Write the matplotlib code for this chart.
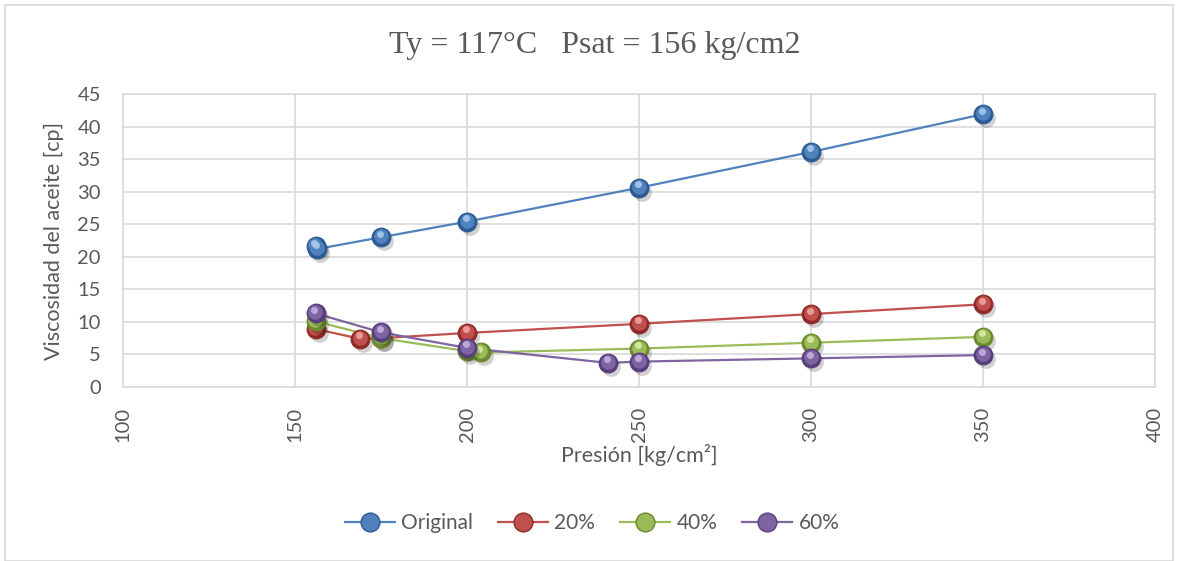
import matplotlib
matplotlib.use("Agg")
import matplotlib.pyplot as plt
from matplotlib.lines import Line2D
import matplotlib.patches as mpatches
import matplotlib.transforms as mtransforms

# Presión [kg/cm2] and viscosity [cp] per series
p_original = [156, 156.5, 175, 200, 250, 300, 350]
mu_original = [21.6, 21.2, 23.0, 25.4, 30.6, 36.1, 41.9]

p_20 = [156, 169, 175, 200, 250, 300, 350]
mu_20 = [8.9, 7.4, 7.5, 8.3, 9.7, 11.2, 12.7]

p_40 = [156, 175, 200, 204, 250, 300, 350]
mu_40 = [10.1, 7.5, 5.5, 5.3, 5.9, 6.8, 7.7]

p_60 = [156, 175, 200, 241, 250, 300, 350]
mu_60 = [11.3, 8.4, 6.0, 3.7, 3.9, 4.4, 4.9]

series_names = ["Original", "20%", "40%", "60%"]
colors = ["#4F81BD", "#C0504D", "#9BBB59", "#8064A2"]
dark = ["#2C5A93", "#8E2A27", "#6A8A2C", "#573F7C"]
light = ["#A9C8EE", "#F0A3A1", "#D6EDA4", "#C4B1E0"]

x_ticks = [100, 150, 200, 250, 300, 350, 400]
y_ticks = list(range(0, 50, 5))

plt.rcParams["font.family"] = ["Lato", "DejaVu Sans"]

W, H = 1179, 561
fig = plt.figure(figsize=(W / 100, H / 100), dpi=100)
ax = fig.add_axes([123 / W, 1 - 387 / H, (1155 - 123) / W, (387 - 94) / H])

# chart frame
fig.patches.append(mpatches.Rectangle((5 / W, 0.0), 1168 / W, 1 - 5 / H,
                                      transform=fig.transFigure, fill=False,
                                      edgecolor="#d9d9d9", linewidth=1.2))

data = [(p_original, mu_original), (p_20, mu_20), (p_40, mu_40), (p_60, mu_60)]

shadow_tr = mtransforms.offset_copy(ax.transData, fig=fig, x=3, y=-4, units="dots")
body_tr = mtransforms.offset_copy(ax.transData, fig=fig, x=-0.5, y=1, units="dots")
hl_tr = mtransforms.offset_copy(ax.transData, fig=fig, x=-1.5, y=3.5, units="dots")

for i, (xs, ys) in enumerate(data):
    ax.plot(xs, ys, color=colors[i], linewidth=1.6, zorder=3 + i * 0.1)
for i, (xs, ys) in enumerate(data):
    z = 4 + i * 0.1
    # soft shadow
    ax.plot(xs, ys, linestyle="none", marker="o", markersize=13.5,
            markerfacecolor="#000000", markeredgecolor="none", alpha=0.18,
            transform=shadow_tr, zorder=z)
    ax.plot(xs, ys, linestyle="none", marker="o", markersize=13.5,
            markerfacecolor=dark[i], markeredgecolor=dark[i], markeredgewidth=0.8,
            zorder=z + 0.01)
    ax.plot(xs, ys, linestyle="none", marker="o", markersize=10.5,
            markerfacecolor=colors[i], markeredgecolor="none", zorder=z + 0.02,
            transform=body_tr)
    ax.plot(xs, ys, linestyle="none", marker="o", markersize=5,
            markerfacecolor=light[i], markeredgecolor="none", alpha=0.9,
            transform=hl_tr, zorder=z + 0.03)

ax.set_xlim(100, 400)
ax.set_ylim(0, 45)
ax.set_xticks(x_ticks)
ax.set_yticks(y_ticks)
ax.set_xticklabels([str(v) for v in x_ticks], rotation=90)
ax.tick_params(axis="y", length=0, labelsize=14.5, labelcolor="#595959", pad=16)
ax.tick_params(axis="x", length=0, labelsize=14.5, labelcolor="#595959", pad=14)
ax.grid(True, color="#d9d9d9", linewidth=1.2)
ax.set_axisbelow(True)
for s in ax.spines.values():
    s.set_color("#d9d9d9")
    s.set_linewidth(1.2)

ax.set_xlabel("Presión [kg/cm²]", fontsize=15.5, color="#595959")
ax.set_ylabel("Viscosidad del aceite [cp]", fontsize=15.5, color="#595959")
ax.xaxis.set_label_coords((639 - 123) / 1032, (387 - 455) / 293)
ax.yaxis.set_label_coords((54 - 123) / 1032, 0.5)
ax.xaxis.label.set_va("center")
ax.yaxis.label.set_va("center")

fig.text(595 / W, 1 - 45 / H, "Ty = 117°C   Psat = 156 kg/cm2",
         ha="center", va="center", fontsize=23, color="#595959",
         family=["Liberation Serif", "DejaVu Serif"])

handles = [Line2D([0], [0], color=colors[i], linewidth=1.6, marker="o", markersize=13.5,
                  markerfacecolor=colors[i], markeredgecolor=dark[i])
           for i in range(4)]
fig.legend(handles, series_names, loc="center", bbox_to_anchor=(592 / W, 1 - 523 / H),
           ncol=4, frameon=False, fontsize=15, labelcolor="#595959",
           handlelength=2.4, columnspacing=1.2, handletextpad=0.3)

fig.savefig("out.png", dpi=100)
